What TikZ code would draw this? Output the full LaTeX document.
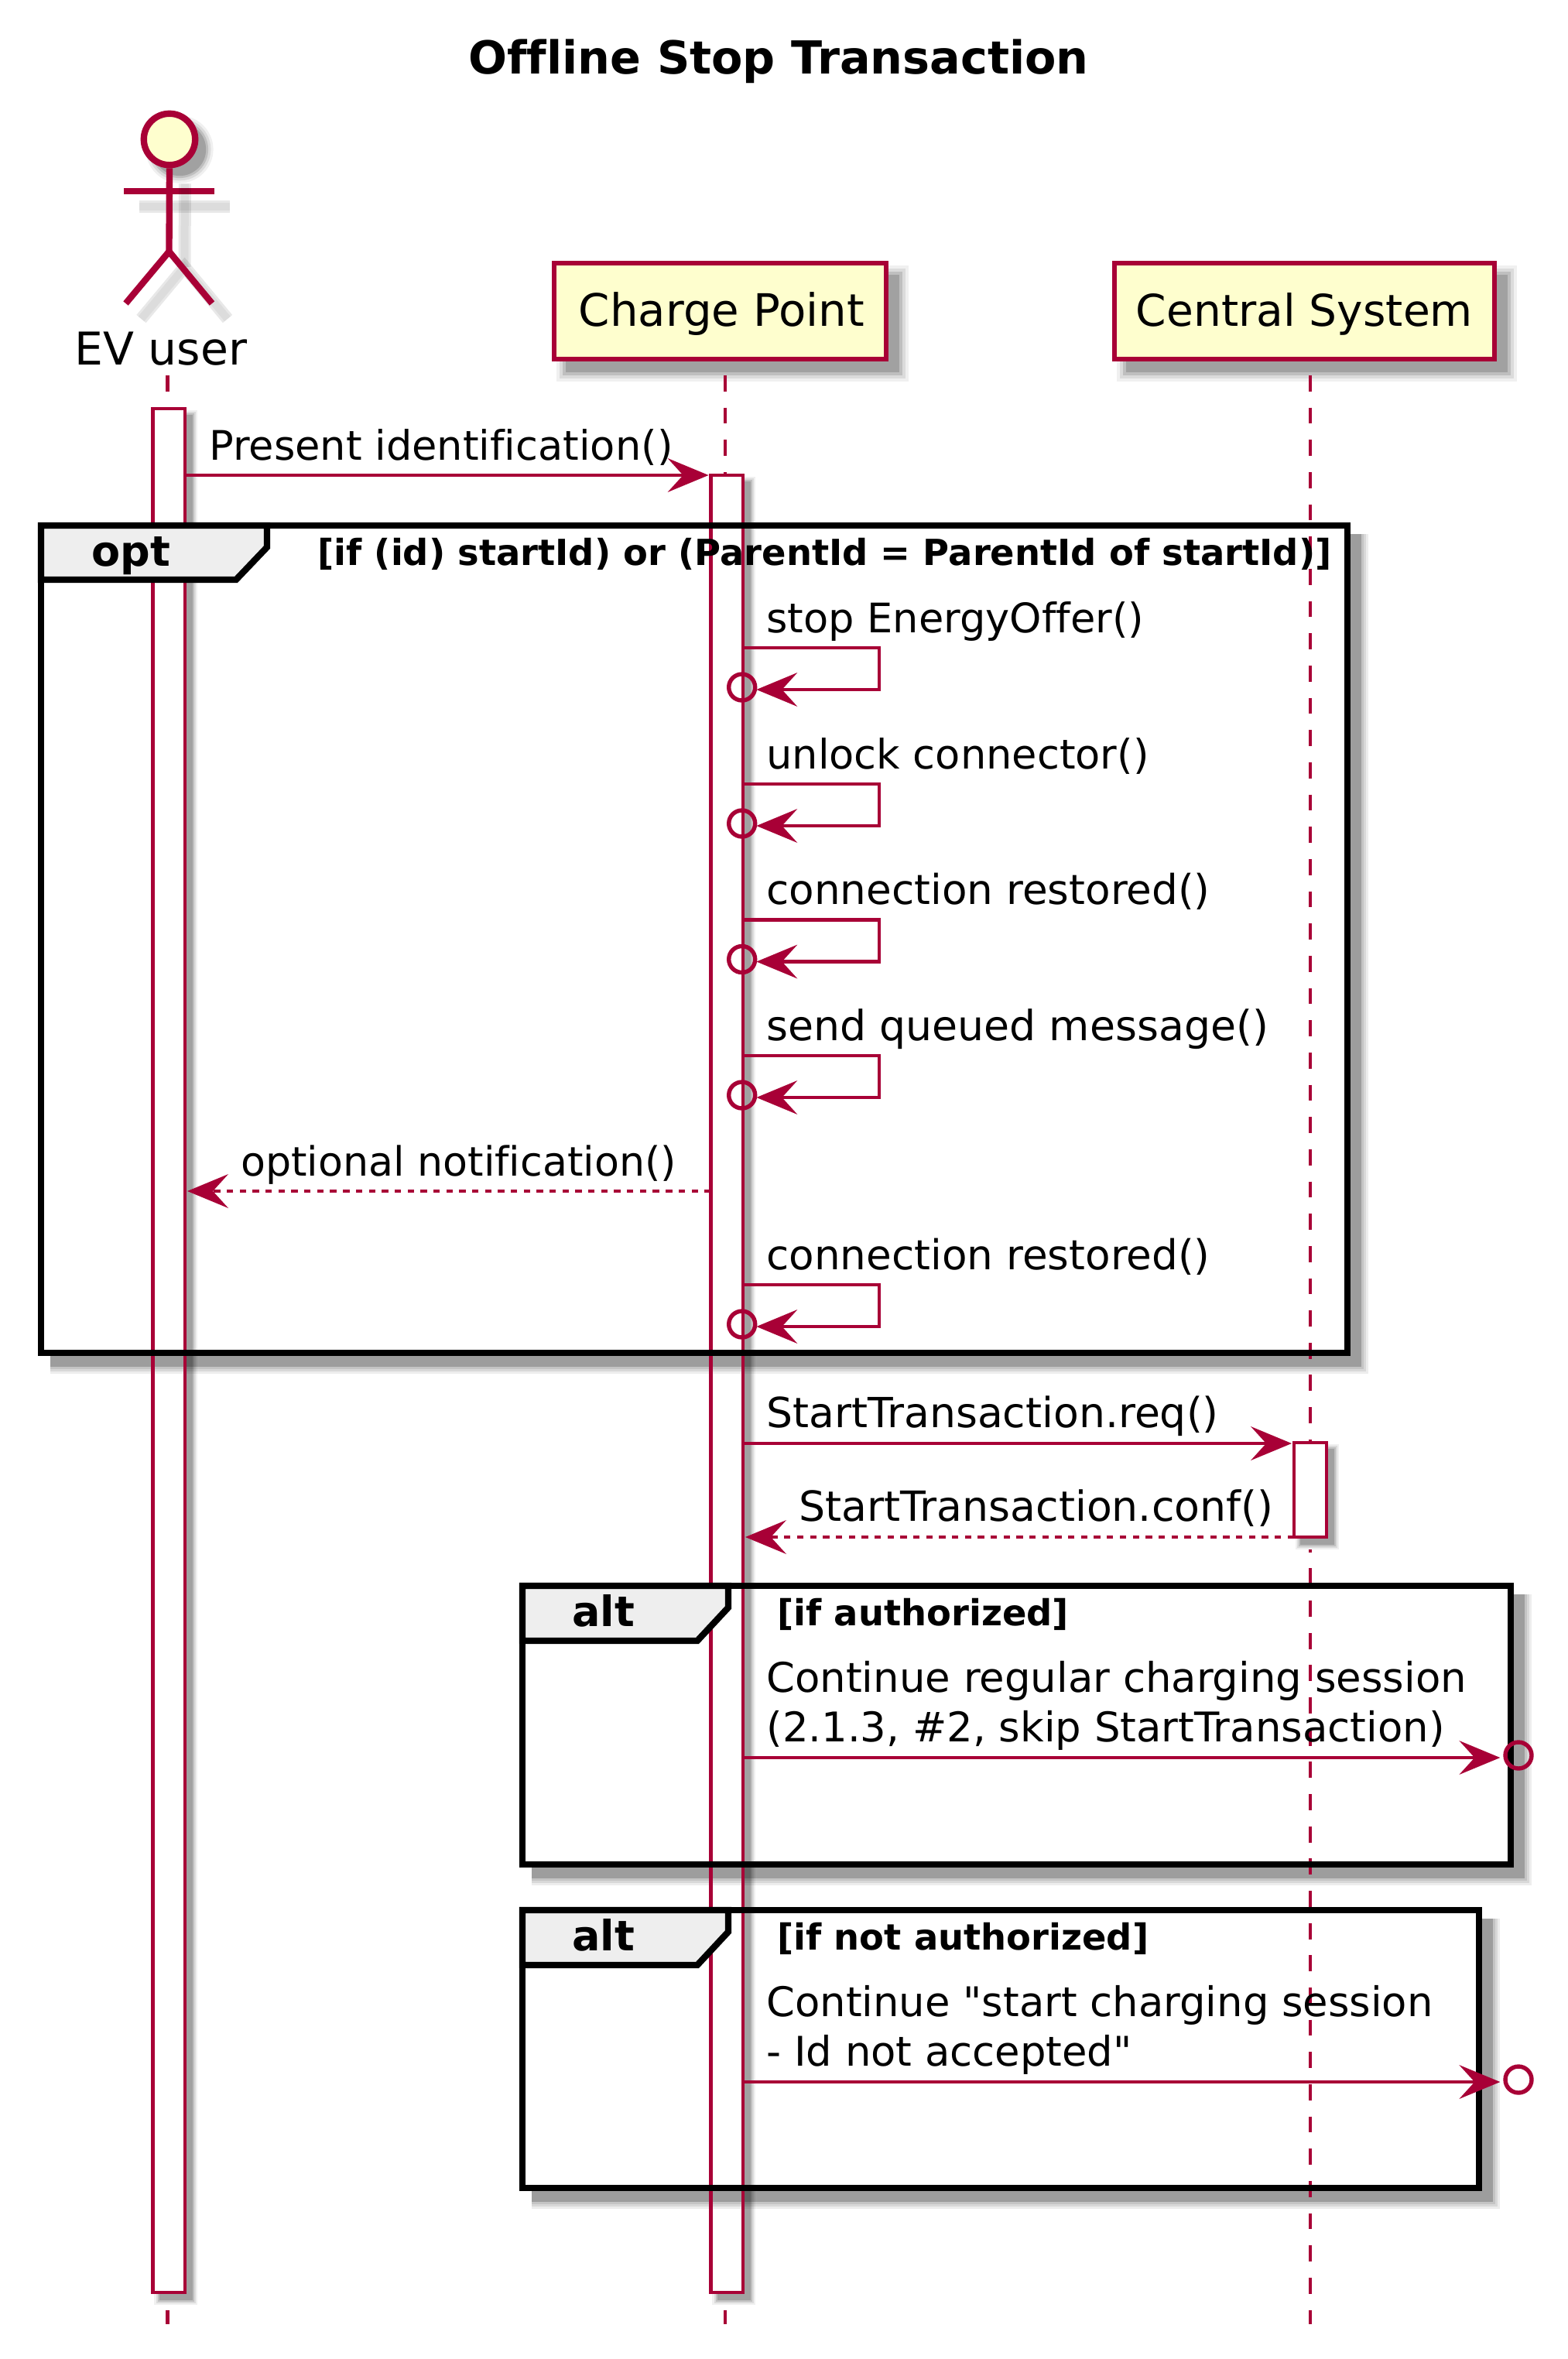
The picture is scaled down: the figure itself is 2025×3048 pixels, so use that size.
\documentclass[tikz,border=0pt]{standalone}
\usepackage{fontspec}
\setmainfont[Ligatures=NoCommon]{DejaVu Sans}
\newfontfamily\plainfont{DejaVu Sans}
\usetikzlibrary{arrows.meta,calc}
\definecolor{umlred}{HTML}{A80036}
\definecolor{umlbox}{HTML}{FEFECE}
\definecolor{umltab}{HTML}{EEEEEE}
\tikzset{
  shadowlayer/.style n args={3}{preaction={draw=black!#3,fill=black!#3,line width=#2,transform canvas={shift={(#1,-#1)}}}},
  softshadow/.style={shadowlayer={#1}{#1*1.6}{6},shadowlayer={#1}{#1*1.1}{14},shadowlayer={#1}{#1*.6}{25},shadowlayer={#1}{#1*.15}{37}},
  softline/.style={
    preaction={draw=black,draw opacity=.09,line width=8pt,line cap=butt,transform canvas={shift={(10pt,-10pt)}}},
    preaction={draw=black,draw opacity=.05,line width=5pt,line cap=butt,transform canvas={shift={(10pt,-10pt)}}}},
  actorline/.style={draw=umlred,line width=4.17pt,softline},
  participant/.style={draw=umlred,fill=umlbox,line width=3.125pt,softshadow=8pt,inner sep=0pt,minimum height=62pt,
    text height=20pt,text depth=1pt},
  lifeline/.style={draw=umlred,line width=2.08pt,dash pattern=on 10.4pt off 10.43pt},
  activebar/.style={draw=umlred,fill=white,line width=2.2pt,softshadow=4.5pt,inner sep=0pt,outer sep=0pt},
  baredge/.style={draw=umlred,line width=2.2pt},
  framebox/.style={draw=black,line width=4.17pt},
  msg/.style={draw=umlred,line width=2.08pt,shorten >=1.5pt,-{Stealth[length=26.5pt,width=22pt,inset=10pt,line width=0pt]}},
  reply/.style={msg,dash pattern=on 4.17pt off 4.17pt},
  callend/.style={circle,draw=umlred,line width=2.7pt,minimum size=17pt,inner sep=0pt},
  msgtext/.style={anchor=base west,inner sep=0pt,font=\fontsize{#1}{31.7}\selectfont},
  msgtext/.default=26.5,
  tabtext/.style={anchor=base west,inner sep=0pt,font=\fontsize{27}{32}\selectfont\bfseries},
  guardtext/.style={anchor=base west,inner sep=0pt,font=\fontsize{23.2}{27}\selectfont\bfseries}
}
% shadow of a frame, right and bottom side only
\newcommand\framecast[4]{
  \foreach \wide/\dark in {16/.20,19/.09,22/.09,25/.07}{
    \draw[black,draw opacity=\dark,line width=\wide*.5pt]
      (#1+12,#4+2+\wide/2) -- (#3+2+\wide/2,#4+2+\wide/2) -- (#3+2+\wide/2,#2+11);
  }
}
\begin{document}
\begin{tikzpicture}[x=0.5pt,y=-0.5pt]
    \useasboundingbox (0,0) rectangle (2025,3048);
    \node[anchor=base,inner sep=0pt,font=\fontsize{29.4}{35}\selectfont\bfseries] (title) at (1006,95) {Offline Stop Transaction};

    \node[circle,draw=umlred,fill=umlbox,line width=4.17pt,minimum size=33.2pt,inner sep=0pt,softshadow=6.5pt] (head) at (219,180) {};
    \coordinate (armleft) at (160,247);
    \coordinate (armright) at (277,247);
    \coordinate (hip) at (218.5,325);
    \coordinate (footleft) at (162.5,392);
    \coordinate (footright) at (274,392);
    \draw[actorline] (armleft) -- (armright);
    \draw[actorline] (head.south) -- (hip);
    \draw[actorline] (footleft) -- (hip) -- (footright);
    \node[anchor=base,inner sep=0pt,font=\fontsize{29.2}{35}\selectfont] (evuser) at (208,471) {EV user};

    \node[participant,minimum width=214.5pt,font=\fontsize{28.9}{35}\selectfont] (chargepoint) at (930.5,402) {\hspace*{2pt}Charge Point};
    \node[participant,minimum width=245.5pt,font=\fontsize{28.3}{35}\selectfont] (centralsystem) at (1685.5,402) {Central System};

    \coordinate (evstart) at (216.5,485);
    \coordinate (evend) at (216.5,3003);
    \coordinate (cpstart) at (937,485);
    \coordinate (cpend) at (937,3003);
    \coordinate (csstart) at (1693.3,485);
    \coordinate (csend) at (1693.3,3003);
    \draw[lifeline] (evstart) -- (evend);
    \draw[lifeline] (cpstart) -- (cpend);

    \node[activebar,minimum width=20.75pt,minimum height=1217pt] (evbar) at (218.3,1745) {};
    \node[activebar,minimum width=20.75pt,minimum height=1174pt] (cpbar) at (939.3,1788) {};

    % frame shadows fall on the bars, the lines stay on top
    \framecast{53}{679}{1741}{1748}
    \framecast{675}{2049}{1952}{2409}
    \framecast{675}{2468}{1911}{2827}

    \draw[lifeline] (csstart) -- (csend);
    \node[activebar,minimum width=21pt,minimum height=61pt] (csbar) at (1693,1925) {};
    \draw[baredge] (evbar.north west) rectangle (evbar.south east);
    \draw[baredge] (cpbar.north west) rectangle (cpbar.south east);

    \draw[framebox] (53,679) rectangle (1741,1748);
    \draw[framebox,fill=umltab] (53,679) -- (345,679) -- (345,707) -- (305,749) -- (53,749) -- cycle;
    \node[tabtext] (opttab) at (118,731) {opt};
    \node[guardtext] (optguard) at (410,730) {[if (id) startId) or (ParentId = ParentId of startId)]};

    \draw[framebox] (675,2049) rectangle (1952,2409);
    \draw[framebox,fill=umltab] (675,2049) -- (941,2049) -- (941,2077) -- (901,2120) -- (675,2120) -- cycle;
    \node[tabtext] (alttabone) at (739,2101) {alt};
    \node[guardtext] (altguardone) at (1004,2100) {[if authorized]};

    \draw[framebox] (675,2468) rectangle (1911,2827);
    \draw[framebox,fill=umltab] (675,2468) -- (941,2468) -- (941,2496) -- (901,2539) -- (675,2539) -- cycle;
    \node[tabtext] (alttabtwo) at (739,2520) {alt};
    \node[guardtext] (altguardtwo) at (1004,2519) {[if not authorized]};

    \coordinate (present) at (0,614);
    \draw[msg] (evbar.east |- present) -- (cpbar.west |- present);
    \node[msgtext=26.3] (presenttext) at (270,594) {Present identification()};

    \foreach \name/\ytop/\size/\label in {stop/837/26.3/stop EnergyOffer(), unlock/1013/26.3/unlock connector(), restore/1188.5/26.6/connection restored(), queue/1364/26.85/send queued message(), again/1660/26.6/connection restored()}{
      \coordinate (\name top) at (1136,\ytop);
      \coordinate (\name low) at (1136,\ytop+54);
      \node[callend] (\name end) at (958.7,\ytop+51) {};
      \draw[msg,shorten >=0pt] (cpbar.east |- \name top) -- (\name top) -- (\name low) -- ($(\name end.east)+(-1,3)$);
      \node[msgtext=\size] (\name text) at (990,\ytop-20) {\label};
    }

    \coordinate (notify) at (0,1539);
    \draw[reply] (cpbar.west |- notify) -- (evbar.east |- notify);
    \node[msgtext=26.1] (notifytext) at (311,1519) {optional notification()};

    \coordinate (request) at (0,1865);
    \draw[msg] (cpbar.east |- request) -- (csbar.west |- request);
    \node[msgtext=26.8] (requesttext) at (990,1844) {StartTransaction.req()};

    \coordinate (confirm) at (0,1986);
    \draw[reply] (csbar.west |- confirm) -- (cpbar.east |- confirm);
    \node[msgtext=26.85] (confirmtext) at (1032,1965) {StartTransaction.conf()};

    \node[callend] (regularend) at (1962,2268) {};
    \coordinate (regularline) at (0,2271);
    \draw[msg,shorten >=0pt] (cpbar.east |- regularline) -- ($(regularend.west |- regularline)+(-4,0)$);
    \node[msgtext=26.45,align=left] (regulartext) at (990,2250) {Continue regular charging session\\(2.1.3, \#2, skip StartTransaction)};

    \node[callend] (refusedend) at (1962,2687) {};
    \coordinate (refusedline) at (0,2690);
    \draw[msg,shorten >=0pt] (cpbar.east |- refusedline) -- ($(refusedend.west |- refusedline)+(-4,0)$);
    \node[msgtext=26.4,align=left] (refusedtext) at (990,2669) {Continue {\plainfont"}start charging session\\- Id not accepted{\plainfont"}};
\end{tikzpicture}
\end{document}
